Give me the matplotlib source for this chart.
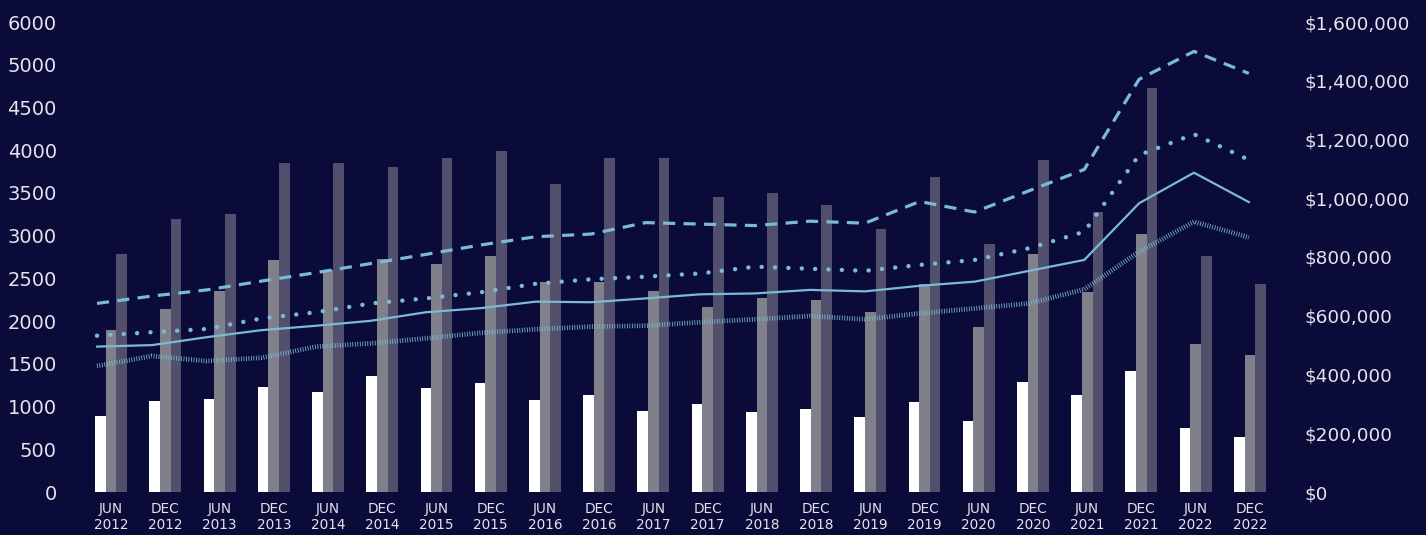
import numpy as np
import matplotlib
matplotlib.use("Agg")
import matplotlib.pyplot as plt
from matplotlib.ticker import FuncFormatter

# ---------------- data ----------------
periods = ["JUN\n2012", "DEC\n2012", "JUN\n2013", "DEC\n2013", "JUN\n2014", "DEC\n2014",
           "JUN\n2015", "DEC\n2015", "JUN\n2016", "DEC\n2016", "JUN\n2017", "DEC\n2017",
           "JUN\n2018", "DEC\n2018", "JUN\n2019", "DEC\n2019", "JUN\n2020", "DEC\n2020",
           "JUN\n2021", "DEC\n2021", "JUN\n2022", "DEC\n2022"]

bars_white = [893, 1065, 1092, 1225, 1170, 1353, 1217, 1279, 1073, 1131, 951, 1033,
              932, 967, 878, 1049, 827, 1287, 1131, 1416, 745, 640]
bars_grey = [1892, 2145, 2352, 2718, 2600, 2726, 2668, 2761, 2461, 2461, 2348, 2168,
             2270, 2243, 2102, 2437, 1927, 2788, 2340, 3022, 1728, 1606]
bars_dark = [2788, 3198, 3249, 3853, 3850, 3798, 3904, 3986, 3604, 3904, 3904, 3448,
             3495, 3354, 3081, 3686, 2902, 3888, 3280, 4727, 2761, 2434]

price_dashed = [642000, 667000, 688000, 718000, 747000, 778000, 809000, 841000, 869000,
                878000, 917000, 912000, 907000, 922000, 915000, 989000, 953000, 1026000,
                1098000, 1405000, 1500000, 1425000]
price_dotted = [532000, 544000, 555000, 591000, 612000, 642000, 659000, 680000, 709000,
                724000, 733000, 744000, 767000, 760000, 753000, 773000, 790000, 830000,
                886000, 1147000, 1218000, 1131000]
price_solid = [495000, 500000, 527000, 551000, 566000, 583000, 612000, 626000, 648000,
               646000, 659000, 673000, 676000, 688000, 683000, 702000, 716000, 753000,
               790000, 983000, 1087000, 987000]
price_hatched = [429000, 463000, 446000, 457000, 495000, 506000, 523000, 542000, 554000,
                 563000, 566000, 578000, 588000, 599000, 588000, 608000, 625000, 642000,
                 690000, 818000, 920000, 867000]

left_ticks = [0, 500, 1000, 1500, 2000, 2500, 3000, 3500, 4000, 4500, 5000, 5500]
left_tick_labels = ["0", "500", "1000", "1500", "2000", "2500", "3000", "3500",
                    "4000", "4500", "5000", "6000"]
right_ticks = [0, 200000, 400000, 600000, 800000, 1000000, 1200000, 1400000, 1600000]

# ---------------- style ----------------
BG = "#0a0b39"
TXT = "#e4e4ec"
LINE = "#7bbad6"
plt.rcParams["font.family"] = ["DejaVu Sans"]

W, H = 1426, 535
fig = plt.figure(figsize=(W / 100, H / 100), dpi=100, facecolor=BG)
ax = fig.add_axes([84 / W, 43 / H, (1277 - 84) / W, (492 - 22) / H])
ax.set_facecolor(BG)

n = len(periods)
x = np.arange(n)
bw = 0.196
ax.bar(x - bw, bars_white, bw, color="#ffffff", linewidth=0, zorder=2)
ax.bar(x, bars_grey, bw, color="#7f8089", linewidth=0, zorder=2)
ax.bar(x + bw, bars_dark, bw, color="#524f6d", linewidth=0, zorder=2)

ax.set_xlim(-0.5, n - 0.5)
ax.set_ylim(0, 5500)
ax.set_yticks(left_ticks)
ax.set_yticklabels(left_tick_labels)
ax.set_xticks(x)
ax.set_xticklabels(periods, linespacing=1.2)
ax.tick_params(axis="y", length=0, pad=19.5, labelsize=14, labelcolor=TXT)
ax.tick_params(axis="x", length=0, pad=7, labelsize=9.8, labelcolor=TXT)
for s in ax.spines.values():
    s.set_visible(False)

ax2 = ax.twinx()
ax2.set_ylim(0, 1600000)
ax2.set_yticks(right_ticks)
ax2.yaxis.set_major_formatter(FuncFormatter(lambda v, p: "${:,.0f}".format(v)))
ax2.tick_params(axis="y", length=0, pad=20, labelsize=13.3, labelcolor=TXT)
for s in ax2.spines.values():
    s.set_visible(False)

lx = np.linspace(-0.26, 20.98, n)
ax2.plot(lx, price_dashed, color=LINE, lw=2.3, dashes=(3.8, 2.6), dash_capstyle="butt", zorder=3)
ax2.plot(lx, price_dotted, color=LINE, lw=3.2, dashes=(0.01, 3.0), dash_capstyle="round", zorder=3)
ax2.plot(lx, price_solid, color=LINE, lw=1.6, zorder=3)
ax2.plot(lx, price_hatched, color=LINE, lw=3.4, dashes=(0.17, 0.36), dash_capstyle="butt", zorder=3)

fig.savefig("out.png", dpi=100, facecolor=BG)
